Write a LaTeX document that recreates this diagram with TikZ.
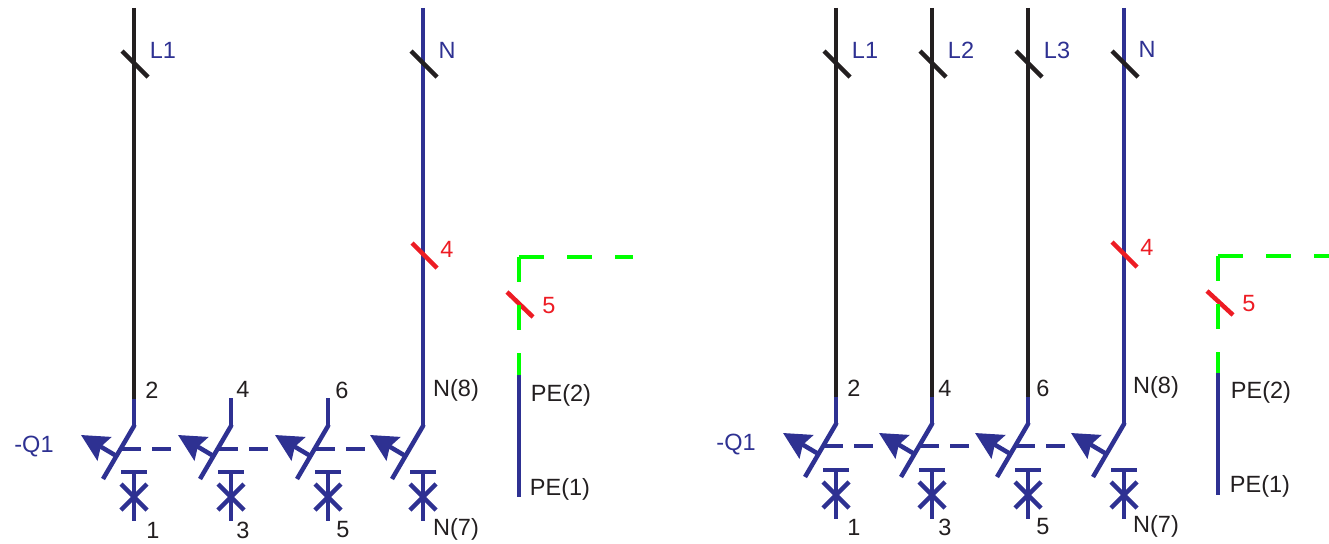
\documentclass[tikz,border=0pt]{standalone}
\usepackage{fontspec}
\setmainfont{Liberation Sans}
\usetikzlibrary{arrows.meta}
\definecolor{wireblue}{HTML}{2E3192}
\definecolor{wireblack}{HTML}{231F20}
\definecolor{markred}{HTML}{ED1C24}
\definecolor{pegreen}{HTML}{00FF00}

\begin{document}
\begin{tikzpicture}[
    x=1pt, y=-1pt,
    wire/.style={line width=4.5pt, wireblue},
    phase/.style={line width=4.5pt, wireblack},
    pewire/.style={line width=4.5pt, pegreen, dash pattern=on 25pt off 23pt},
    tick/.style={line width=4.5pt, wireblack},
    redtick/.style={line width=4.5pt, markred},
    linkbar/.style={line width=4.5pt, wireblue, dash pattern=on 19pt off 11pt},
    tag/.style={font=\fontsize{23.5}{23.5}\selectfont, text=wireblack, inner sep=0pt},
    bluetag/.style={tag, text=wireblue},
    redtag/.style={tag, text=markred},
    breakerpole/.pic={
        \draw[wire, line join=round] (0, -1) -- (0, 0) -- (-31, 53);
        \draw[wire, -{Stealth[length=27pt, width=27pt, inset=4pt]}] (-17.5, 30) -- (-53, 9);
        \draw[wire] (-13, 46) -- (13, 46);
        \draw[wire] (0, 46) -- (0, 95);
        \draw[wire] (-13, 58) -- (13, 84);
        \draw[wire] (-13, 84) -- (13, 58);
    }
]
    \useasboundingbox (0, 0) rectangle (1329, 543);

    % === Left Panel ===
    \begin{scope}
        % Wires
        \draw[phase] (134, 8) -- (134, 400);
        \draw[wire] (134, 399) -- (134, 427);
        \draw[wire] (231, 398) -- (231, 427);
        \draw[wire] (328, 398) -- (328, 427);
        \draw[wire] (423, 8) -- (423, 427);

        % Poles
        \foreach \polex in {134, 231, 328, 423}
            \pic at (\polex, 426) {breakerpole};
        \foreach \polex in {122, 219, 316}
            \draw[linkbar] (\polex, 449) -- ++(50, 0);

        % Ticks
        \draw[tick] (122, 51) -- (148, 77);
        \draw[tick] (411, 51) -- (437, 77);
        \draw[redtick] (412, 243) -- (437, 268);
        \draw[redtick] (507, 292) -- (533, 317);

        % PE line
        \draw[pewire] (519, 257) -- (633, 257);
        \draw[pewire] (519, 257) -- (519, 375);
        \draw[wire] (519, 375) -- (519, 497);

        % Labels
        \node[bluetag] (lblLa) at (163, 50) {L1};
        \node[bluetag] (lblNa) at (447, 50) {N};
        \node[redtag] (lblRedFoura) at (447, 249) {4};
        \node[redtag] (lblRedFivea) at (549, 306) {5};
        \node[bluetag] (lblQa) at (34, 447) {-Q1};
        \node[tag] (lblTwoa) at (152, 390) {2};
        \node[tag] (lblFoura) at (243, 389) {4};
        \node[tag] (lblSixa) at (342, 390) {6};
        \node[tag] (lblEighta) at (456, 390) {N(8)};
        \node[tag] (lblOnea) at (153, 530) {1};
        \node[tag] (lblThreea) at (243, 530) {3};
        \node[tag] (lblFivea) at (343, 530) {5};
        \node[tag] (lblSevena) at (456, 529) {N(7)};
        \node[tag] (lblPeTwoa) at (561, 395) {PE(2)};
        \node[tag] (lblPeOnea) at (560, 489) {PE(1)};
    \end{scope}

    % === Right Panel ===
    \begin{scope}
        % Wires
        \draw[phase] (836, 8) -- (836, 398);
        \draw[phase] (932, 8) -- (932, 398);
        \draw[phase] (1028, 8) -- (1028, 398);
        \draw[wire] (836, 397) -- (836, 425);
        \draw[wire] (932, 397) -- (932, 425);
        \draw[wire] (1028, 397) -- (1028, 425);
        \draw[wire] (1124, 8) -- (1124, 425);

        % Poles
        \foreach \polex in {836, 932, 1028, 1124}
            \pic at (\polex, 424) {breakerpole};
        \foreach \polex in {824, 920, 1016}
            \draw[linkbar] (\polex, 446) -- ++(50, 0);

        % Ticks
        \foreach \polex in {836, 932, 1028, 1124}
            \draw[tick] (\polex-12, 51) -- (\polex+14, 77);
        \draw[redtick] (1112, 242) -- (1137, 267);
        \draw[redtick] (1207, 291) -- (1233, 315);

        % PE line
        \draw[pewire] (1218, 256) -- (1329, 256);
        \draw[pewire] (1218, 256) -- (1218, 373);
        \draw[wire] (1218, 373) -- (1218, 495);

        % Labels
        \node[bluetag] (lblLb) at (865, 50) {L1};
        \node[bluetag] (lblLc) at (961, 50) {L2};
        \node[bluetag] (lblLd) at (1057, 50) {L3};
        \node[bluetag] (lblNb) at (1147, 49) {N};
        \node[redtag] (lblRedFourb) at (1147, 247) {4};
        \node[redtag] (lblRedFiveb) at (1249, 304) {5};
        \node[bluetag] (lblQb) at (736, 445) {-Q1};
        \node[tag] (lblTwob) at (854, 388) {2};
        \node[tag] (lblFourb) at (945, 388) {4};
        \node[tag] (lblSixb) at (1043, 388) {6};
        \node[tag] (lblEightb) at (1156, 387) {N(8)};
        \node[tag] (lblOneb) at (854, 527) {1};
        \node[tag] (lblThreeb) at (945, 527) {3};
        \node[tag] (lblFiveb) at (1043, 527) {5};
        \node[tag] (lblSevenb) at (1156, 526) {N(7)};
        \node[tag] (lblPeTwob) at (1261, 392) {PE(2)};
        \node[tag] (lblPeOneb) at (1260, 486) {PE(1)};
    \end{scope}
\end{tikzpicture}
\end{document}
